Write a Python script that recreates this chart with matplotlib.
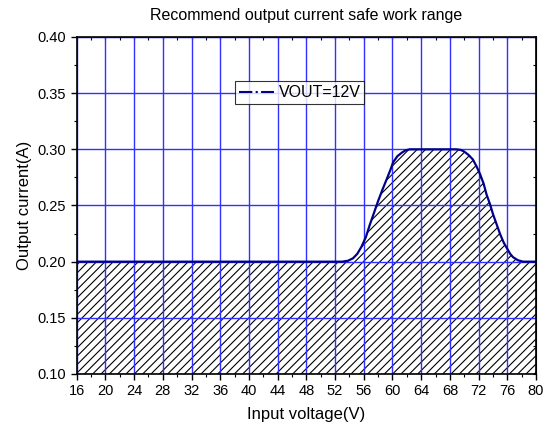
import numpy as np
import matplotlib
matplotlib.use("Agg")
import matplotlib.pyplot as plt
from matplotlib.lines import Line2D
from matplotlib.ticker import MultipleLocator, FormatStrFormatter

# ── Data ──────────────────────────────────────────────────────────────────────
vin = [16, 53.0, 53.8, 54.5, 55.1, 55.7, 56.3, 56.85, 57.4, 58.0, 58.6, 59.2,
       59.7, 60.1, 60.7, 61.3, 61.8, 62.4, 63.2, 68.9,
       69.5, 70.0, 70.6, 71.2, 71.7, 72.2, 72.7, 73.1, 73.6, 74.0, 74.5,
       75.0, 75.5, 75.9, 76.4, 76.8, 77.5, 78.2, 80]
iout = [0.200, 0.200, 0.2008, 0.203, 0.207, 0.2135, 0.222, 0.233, 0.243, 0.254, 0.264, 0.2735,
        0.2815, 0.2885, 0.294, 0.297, 0.299, 0.300, 0.300, 0.300,
        0.2995, 0.298, 0.295, 0.291, 0.285, 0.278, 0.2695, 0.260, 0.251, 0.2425, 0.2335,
        0.2245, 0.217, 0.2125, 0.207, 0.204, 0.2012, 0.200, 0.200]
series_label = "VOUT=12V"

plt.rcParams["font.family"] = ["Liberation Sans", "DejaVu Sans"]
plt.rcParams["hatch.linewidth"] = 0.8

fig = plt.figure(figsize=(5.47, 4.30), dpi=100)
ax = fig.add_axes([76.7 / 547, 1 - 374 / 430, 459.3 / 547, 337 / 430])

# hatched safe area under the curve
ax.fill_between(vin, 0.1, iout, facecolor="none", edgecolor="black",
                hatch="////", linewidth=0, zorder=1)
ax.plot(vin, iout, color="#00008B", linewidth=1.6, zorder=4,
        solid_joinstyle="round")

ax.set_xlim(16, 80)
ax.set_ylim(0.10, 0.40)
ax.xaxis.set_major_locator(MultipleLocator(4))
ax.xaxis.set_minor_locator(MultipleLocator(2))
ax.yaxis.set_major_locator(MultipleLocator(0.05))
ax.yaxis.set_minor_locator(MultipleLocator(0.025))
ax.yaxis.set_major_formatter(FormatStrFormatter("%.2f"))

ax.grid(True, which="major", color="#3030ff", linewidth=1.0, zorder=2)
ax.set_axisbelow(False)

ax.tick_params(which="both", direction="out", labelsize=10.5, top=False, right=False)
ax.tick_params(which="major", length=4, width=1)
ax.tick_params(which="minor", length=2.5, width=0.8)
sec_x = ax.secondary_xaxis("top")
sec_x.xaxis.set_major_locator(MultipleLocator(2))
sec_x.tick_params(direction="in", length=2.5, labeltop=False)
sec_y = ax.secondary_yaxis("right")
sec_y.yaxis.set_major_locator(MultipleLocator(0.025))
sec_y.tick_params(direction="in", length=2.5, labelright=False)

for s in ax.spines.values():
    s.set_linewidth(1.2)
    s.set_zorder(5)

ax.set_xlabel("Input voltage(V)", fontsize=12, labelpad=6)
ax.set_ylabel("Output current(A)", fontsize=12, labelpad=4)
ax.set_title("Recommend output current safe work range", fontsize=11.5, pad=12)

handle = Line2D([], [], color="#00008B", linewidth=1.5, linestyle="-.")
leg = ax.legend([handle], [series_label], loc="center", bbox_to_anchor=(0.485, 0.835),
                fontsize=11.5, frameon=True, fancybox=False, handlelength=2.2,
                borderpad=0.25, handletextpad=0.3, borderaxespad=0)
leg.get_frame().set_edgecolor("black")
leg.get_frame().set_linewidth(0.8)
leg.set_zorder(6)

plt.savefig("out.png", dpi=100)
plt.close()
